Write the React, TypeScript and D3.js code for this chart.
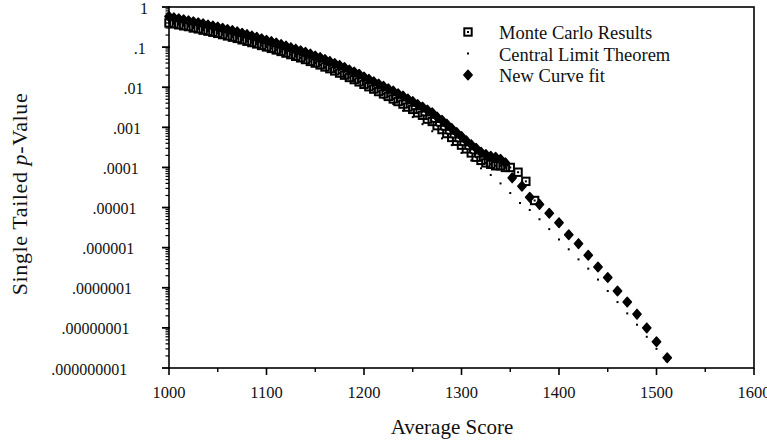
import React from 'react';
import * as d3 from 'd3';

const W = 767;
const H = 444;

// x axis
const xMajorTicks = [1000, 1100, 1200, 1300, 1400, 1500, 1600];
const xMinorTicks = [1050, 1150, 1250, 1350, 1450, 1550];
// y axis
const yTickValues = [1, 0.1, 0.01, 0.001, 0.0001, 0.00001, 0.000001, 0.0000001, 0.00000001, 0.000000001];
const yTickLabels = ['1', '.1', '.01', '.001', '.0001', '.00001', '.000001', '.0000001', '.00000001', '.000000001'];

const xTitle = 'Average Score';
const legendLabels = ['Monte Carlo Results', 'Central Limit Theorem', 'New Curve fit'];

// Monte Carlo Results
const mcScores = [
  1000, 1005, 1010, 1015, 1020, 1025, 1030, 1035, 1040, 1045, 1050, 1055, 1060, 1065, 1070, 1075,
  1080, 1085, 1090, 1095, 1100, 1105, 1110, 1115, 1120, 1125, 1130, 1135, 1140, 1145, 1150, 1155,
  1160, 1165, 1170, 1175, 1180, 1185, 1190, 1195, 1200, 1205, 1210, 1215, 1220, 1225, 1230, 1235,
  1240, 1245, 1250, 1255, 1260, 1265, 1270, 1275, 1280, 1285, 1290, 1295, 1300, 1305, 1310, 1315,
  1320, 1325, 1330, 1335, 1340, 1345, 1350, 1358, 1366, 1375,
];
const mcPValues = [
  0.40, 0.38, 0.36, 0.34, 0.325, 0.30, 0.285, 0.265, 0.25, 0.235, 0.22, 0.205, 0.19, 0.177, 0.165, 0.152,
  0.14, 0.13, 0.12, 0.11, 0.101, 0.093, 0.085, 0.078, 0.071, 0.065, 0.059, 0.054, 0.049, 0.044, 0.04, 0.036,
  0.032, 0.029, 0.0255, 0.0225, 0.02, 0.0175, 0.0155, 0.0136, 0.0118, 0.0103, 0.009, 0.0078, 0.0068, 0.0059, 0.0051, 0.0044,
  0.0038, 0.0032, 0.0028, 0.0023, 0.002, 0.0016, 0.0014, 0.0011, 0.00088, 0.0007, 0.00056, 0.00045, 0.00036, 0.00029, 0.00023, 0.00018,
  0.00015, 0.00013, 0.00012, 0.00011, 0.00011, 0.0001, 0.0001, 0.000076, 0.000045, 0.000015,
];

// New Curve fit
const fitScores = [
  1000, 1005, 1010, 1015, 1020, 1025, 1030, 1035, 1040, 1045, 1050, 1055, 1060, 1065, 1070, 1075,
  1080, 1085, 1090, 1095, 1100, 1105, 1110, 1115, 1120, 1125, 1130, 1135, 1140, 1145, 1150, 1155,
  1160, 1165, 1170, 1175, 1180, 1185, 1190, 1195, 1200, 1205, 1210, 1215, 1220, 1225, 1230, 1235,
  1240, 1245, 1250, 1255, 1260, 1265, 1270, 1275, 1280, 1285, 1290, 1295, 1300, 1305, 1310, 1315,
  1320, 1325, 1330, 1335, 1340, 1345, 1352, 1362, 1370, 1380, 1390, 1400, 1410, 1420, 1430, 1440,
  1450, 1460, 1470, 1480, 1490, 1500, 1511,
];
const fitPValues = [
  0.58, 0.54, 0.51, 0.48, 0.455, 0.43, 0.405, 0.38, 0.355, 0.335, 0.315, 0.295, 0.275, 0.258, 0.24, 0.222,
  0.205, 0.19, 0.175, 0.161, 0.148, 0.137, 0.126, 0.116, 0.106, 0.097, 0.089, 0.081, 0.074, 0.067, 0.06, 0.055,
  0.049, 0.044, 0.039, 0.035, 0.031, 0.027, 0.024, 0.021, 0.018, 0.0158, 0.0137, 0.012, 0.0105, 0.0091, 0.008, 0.0069,
  0.006, 0.0051, 0.0044, 0.0037, 0.0032, 0.0027, 0.0023, 0.0018, 0.0015, 0.0012, 0.00094, 0.00074, 0.00059, 0.00046, 0.00037, 0.0003,
  0.00024, 0.00021, 0.00019, 0.00018, 0.00016, 0.00013, 0.000055, 0.000034, 0.000018, 0.000012, 0.0000072, 0.0000042, 0.0000021, 0.00000126, 0.00000065, 0.00000033,
  0.00000018, 0.000000083, 0.000000044, 0.000000022, 0.00000001, 0.0000000045, 0.0000000018,
];

// Central Limit Theorem
const cltScores = [
  1000, 1010, 1020, 1030, 1040, 1050, 1060, 1070, 1080, 1090, 1100, 1110, 1120, 1130, 1140, 1150,
  1160, 1170, 1180, 1190, 1200, 1210, 1220, 1230, 1240, 1250, 1260, 1270, 1280, 1290, 1300, 1310,
  1320, 1330, 1340, 1350, 1360, 1370, 1380, 1390, 1400, 1410, 1420, 1430, 1440, 1450, 1460, 1470,
  1480, 1490, 1500, 1510,
];
const cltPValues = [
  0.5, 0.45, 0.41, 0.36, 0.32, 0.28, 0.24, 0.21, 0.18, 0.15, 0.12, 0.10, 0.082, 0.065, 0.052, 0.041,
  0.031, 0.024, 0.018, 0.014, 0.010, 0.0075, 0.0053, 0.0038, 0.0026, 0.0018, 0.0012, 0.0008, 0.00053, 0.00036, 0.00023, 0.00015,
  0.000095, 0.000065, 0.00004, 0.000023, 0.000013, 0.0000087, 0.0000051, 0.0000029, 0.0000016, 0.00000091, 0.00000051, 0.0000003, 0.00000016, 0.000000083, 0.000000044, 0.000000023,
  0.000000012, 0.000000006, 0.000000003, 0.0000000015,
];

const FONT = '"Liberation Serif", "Times New Roman", serif';

const diamondPath = (cx: number, cy: number) =>
  `M${cx},${cy - 4.8}L${cx + 4.2},${cy}L${cx},${cy + 4.8}L${cx - 4.2},${cy}Z`;

function McMarker({ x, y, fill }: { x: number; y: number; fill: string }) {
  return (
    <g>
      <rect x={x - 3.7} y={y - 3.7} width={7.4} height={7.4} fill={fill} stroke="#000" strokeWidth={2} />
      <rect x={x - 1} y={y - 1} width={2} height={2} fill="#000" />
    </g>
  );
}

export default function App() {
  const x = d3.scaleLinear().domain([1000, 1600]).range([169, 754]);
  const y = d3.scaleLog().domain([1e-9, 1]).range([368, 7]);
  const minorY = y.ticks().filter((v) => !yTickValues.some((t) => Math.abs(Math.log10(v) - Math.log10(t)) < 1e-6));

  const [x0, x1] = x.range();
  const [yb, yt] = y.range();

  const mc = mcScores.map((s, i) => ({ s, p: mcPValues[i] }));
  const fit = fitScores.map((s, i) => ({ s, p: fitPValues[i] }));
  const clt = cltScores.map((s, i) => ({ s, p: cltPValues[i] }));

  const legX = 468;
  const legY = [32, 53.5, 75];

  return (
    <svg width={W} height={H} style={{ position: 'absolute', left: 0, top: 0, background: '#fff' }} fontFamily={FONT}>
      <rect x={0} y={0} width={W} height={H} fill="#fff" />

      {/* data */}
      {clt.map((d, i) => (
        <rect key={'c' + i} x={x(d.s) - 1} y={y(d.p) - 1} width={2} height={2} fill="#000" />
      ))}
      {mc.map((d, i) => (
        <McMarker key={'m' + i} x={x(d.s)} y={y(d.p)} fill="none" />
      ))}
      {fit.map((d, i) => (
        <path key={'f' + i} d={diamondPath(x(d.s), y(d.p))} fill="#000" stroke="#000" strokeWidth={1.4} strokeLinejoin="round" />
      ))}

      {/* frame */}
      <rect x={x0} y={yt} width={x1 - x0} height={yb - yt} fill="none" stroke="#000" strokeWidth={1.6} />

      {/* y ticks */}
      {yTickValues.map((v, i) => (
        <g key={'yt' + i}>
          <line x1={x0 - 7} x2={x0 + 1} y1={y(v)} y2={y(v)} stroke="#000" strokeWidth={1.8} />
          <text
            x={148 - 2.3 * i}
            y={y(v) + 1}
            textAnchor="end"
            dominantBaseline="central"
            fontSize={16}
            fill="#111"
          >
            {yTickLabels[i]}
          </text>
        </g>
      ))}
      {minorY.map((v, i) => (
        <line key={'ym' + i} x1={x0 - 3.5} x2={x0} y1={y(v)} y2={y(v)} stroke="#000" strokeWidth={1.2} />
      ))}

      {/* x ticks */}
      {xMajorTicks.map((v, i) => (
        <g key={'xt' + i}>
          <line x1={x(v)} x2={x(v)} y1={yb} y2={yb + 7} stroke="#000" strokeWidth={1.6} />
          <text x={x(v)} y={yb + 24} textAnchor="middle" dominantBaseline="central" fontSize={16.5} fill="#111">
            {v}
          </text>
        </g>
      ))}
      {xMinorTicks.map((v, i) => (
        <line key={'xm' + i} x1={x(v)} x2={x(v)} y1={yb} y2={yb + 4} stroke="#000" strokeWidth={1.4} />
      ))}

      {/* axis titles */}
      <text x={452} y={427} textAnchor="middle" dominantBaseline="central" fontSize={21} fill="#111">
        {xTitle}
      </text>
      <text
        transform={`translate(19,194) rotate(-90)`}
        textAnchor="middle"
        dominantBaseline="central"
        fontSize={22}
        fill="#111"
        letterSpacing={0.6}
      >
        Single Tailed <tspan fontStyle="italic">p</tspan>-Value
      </text>

      {/* legend */}
      <McMarker x={legX} y={legY[0]} fill="#fff" />
      <rect x={legX - 1} y={legY[1] - 1} width={2} height={2} fill="#000" />
      <path d={diamondPath(legX, legY[2])} fill="#000" stroke="#000" strokeWidth={1.4} strokeLinejoin="round" />
      {legendLabels.map((t, i) => (
        <text key={'l' + i} x={499} y={legY[i] + 1} dominantBaseline="central" fontSize={18.5} fill="#111">
          {t}
        </text>
      ))}
    </svg>
  );
}
